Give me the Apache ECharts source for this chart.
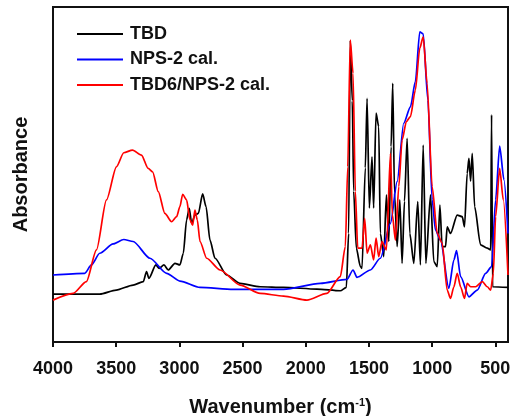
<!DOCTYPE html>
<html>
<head>
<meta charset="utf-8">
<script src="https://cdn.jsdelivr.net/npm/echarts@6/dist/echarts.min.js"></script>
<style>
html,body{margin:0;padding:0;background:#fff;}
#chart{width:512px;height:416px;}
</style>
</head>
<body>
<div id="chart"></div>
<script>
// Wavenumber tick labels
var xTicks = [4000, 3500, 3000, 2500, 2000, 1500, 1000, 500];

// TBD (black)
var tbdWn = [4000,3630,3500,3366,3286,3260,3241,3186,3160,3122,3088,3035,2996,2969,2943,2922,2903,2877,2850,2816,2789,2758,2718,2626,2520,2361,2176,1912,1727,1679,1661,1648,1632,1621,1600,1568,1555,1529,1515,1497,1476,1463,1444,1423,1410,1383,1362,1343,1325,1312,1298,1277,1256,1238,1219,1198,1177,1145,1114,1093,1071,1050,1013,987,960,939,921,894,881,855,802,762,744,723,709,696,683,664,617,564,537,530,522,400];
var tbdAbs = [14.3,14.3,15.5,17.0,18.0,21.0,19.0,23.0,22.0,23.0,21.5,23.5,23.0,26.5,36.4,39.9,35.4,37.9,38.4,44.2,40.4,30.4,25.0,20.0,17.5,16.5,16.3,15.8,15.3,16.3,32.4,90.0,72.0,45.0,28.0,22.5,22.0,52.0,72.7,40.0,55.3,40.0,68.3,64.3,32.4,25.5,43.9,30.0,58.3,77.2,44.4,28.5,42.4,23.5,42.0,60.8,32.4,23.5,41.9,23.0,58.8,23.5,43.9,24.0,22.5,40.9,28.5,28.5,34.4,32.4,37.9,37.4,34.4,50.3,54.8,48.0,56.3,40.4,29.0,28.0,27.5,67.8,16.5,16.3];

// NPS-2 cal. (blue)
var npsWn = [4000,3749,3696,3630,3524,3440,3366,3233,3101,2996,2837,2573,2176,1885,1674,1626,1595,1489,1410,1330,1277,1225,1172,1133,1098,1071,1034,1000,974,934,868,828,807,775,709,643,577,530,498,466,432,400];
var npsAbs = [20.0,20.5,23.0,26.5,29.3,30.6,30.0,25.0,20.5,18.2,16.3,15.7,15.7,17.5,18.7,21.5,19.3,21.5,25.0,35.4,47.9,65.3,70.2,77.7,92.6,92.0,72.2,42.4,33.4,30.4,16.0,24.5,27.3,19.5,13.5,15.5,20.5,22.5,42.4,58.5,48.4,32.4];

// TBD6/NPS-2 cal. (red)
var mixWn = [4000,3841,3736,3656,3577,3498,3440,3371,3300,3247,3212,3167,3115,3062,3022,2996,2974,2943,2916,2895,2877,2858,2837,2784,2678,2520,2361,2176,1991,1833,1727,1687,1668,1648,1626,1608,1589,1555,1534,1515,1489,1463,1444,1423,1397,1362,1330,1315,1291,1264,1238,1204,1172,1133,1098,1071,1040,1000,960,921,881,855,828,802,775,744,723,696,656,603,564,537,516,498,466,437,400];
var mixAbs = [12.5,14.5,18.0,27.5,42.4,52.3,56.5,57.3,55.8,51.8,50.8,44.9,38.4,35.9,37.4,40.4,44.1,42.4,36.4,34.9,39.4,36.4,30.0,25.0,21.5,17.0,14.5,13.7,12.5,14.5,19.5,28.5,52.3,90.1,80.2,45.0,28.0,28.0,36.9,26.5,29.0,24.5,31.0,25.5,30.0,27.5,56.3,38.0,30.4,46.4,60.3,65.8,67.3,75.2,87.7,91.1,77.2,46.4,32.4,29.5,15.5,13.0,16.5,20.5,16.5,13.0,17.5,16.5,16.5,18.0,16.5,15.5,20.5,37.4,51.8,42.4,20.0];

function zip(a, b) { return a.map(function (v, i) { return [v, b[i]]; }); }

var FONT = 'Arial, "Liberation Sans", sans-serif';
var chart = echarts.init(document.getElementById('chart'), null, {renderer: 'canvas'});
var lineCommon = {type: 'line', symbol: 'none', showSymbol: false, smooth: 0.25, smoothMonotone: 'x'};
chart.setOption({
  animation: false,
  backgroundColor: '#fff',
  textStyle: {fontFamily: FONT},
  grid: {left: 53, right: 4, top: 7, bottom: 74, outerBoundsMode: 'none', containLabel: false,
    show: true, borderColor: '#111', borderWidth: 2, backgroundColor: 'transparent'},
  legend: {
    orient: 'vertical', left: 72, top: 20, itemWidth: 46, itemHeight: 2, itemGap: 7.5, icon: 'rect',
    textStyle: {fontSize: 18, fontWeight: 'bold', color: '#111', fontFamily: FONT, padding: [0, 0, 0, 2]},
    data: ['TBD', 'NPS-2 cal.', 'TBD6/NPS-2 cal.']
  },
  xAxis: {
    type: 'value', inverse: true, min: 400, max: 4000,
    name: 'Wavenumber (cm{sup|-1})', nameLocation: 'middle', nameGap: 55,
    nameTextStyle: {fontSize: 20, fontWeight: 'bold', color: '#111', fontFamily: FONT,
      rich: {sup: {fontSize: 11, fontWeight: 'bold', verticalAlign: 'top', color: '#111', padding: [0, 0, 10, 0]}}},
    axisLine: {show: true, lineStyle: {color: '#111', width: 2}},
    axisTick: {show: true, inside: false, length: 5, customValues: xTicks, lineStyle: {color: '#111', width: 2}},
    axisLabel: {show: true, margin: 18, fontSize: 18, fontWeight: 'bold', color: '#111', fontFamily: FONT,
      customValues: xTicks, formatter: function (v) { return String(v); }},
    splitLine: {show: false}
  },
  yAxis: {
    type: 'value', min: 0, max: 100,
    name: 'Absorbance', nameLocation: 'middle', nameGap: 22, nameRotate: 90,
    nameTextStyle: {fontSize: 20, fontWeight: 'bold', color: '#111', fontFamily: FONT},
    axisLine: {show: true, lineStyle: {color: '#111', width: 2}},
    axisTick: {show: false}, axisLabel: {show: false}, splitLine: {show: false}
  },
  series: [
    Object.assign({name: 'TBD', data: zip(tbdWn, tbdAbs), color: '#000', lineStyle: {color: '#000', width: 1.7}, z: 3}, lineCommon),
    Object.assign({name: 'NPS-2 cal.', data: zip(npsWn, npsAbs), color: '#0000ff', lineStyle: {color: '#0000ff', width: 1.7}, z: 4}, lineCommon),
    Object.assign({name: 'TBD6/NPS-2 cal.', data: zip(mixWn, mixAbs), color: '#ff0000', lineStyle: {color: '#ff0000', width: 1.7}, z: 5}, lineCommon)
  ]
});
</script>
</body>
</html>
